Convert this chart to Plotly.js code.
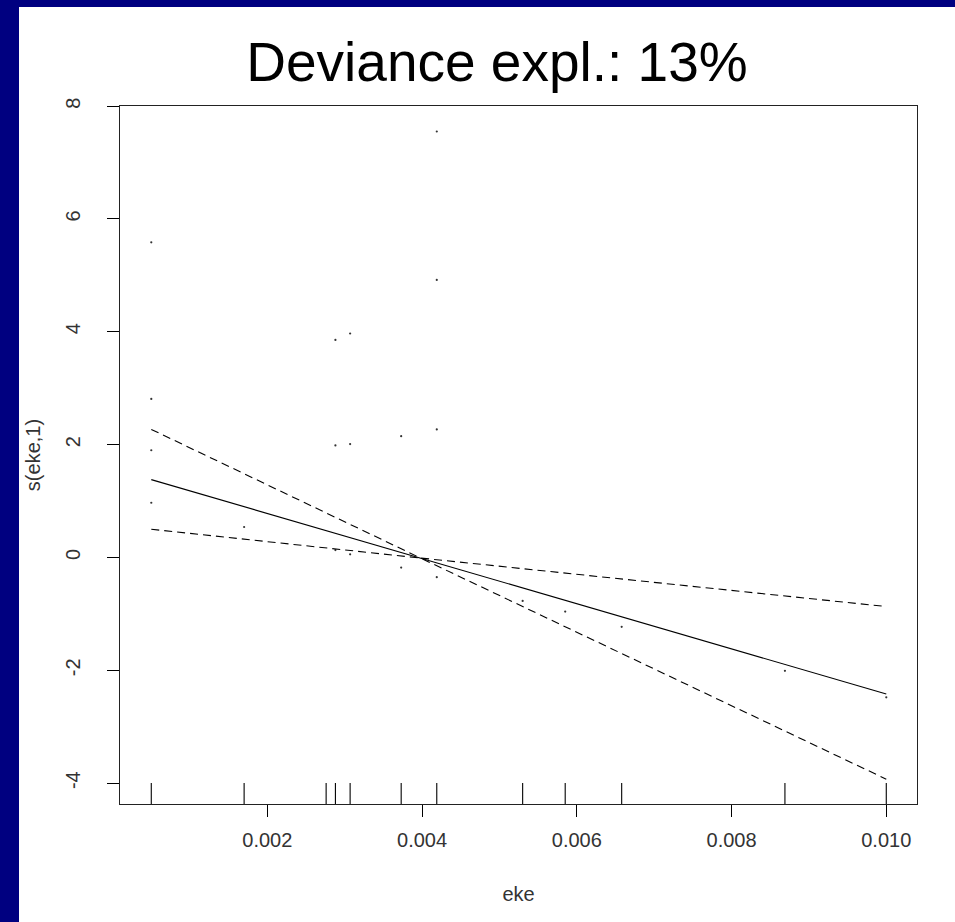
<!DOCTYPE html>
<html>
<head>
<meta charset="utf-8">
<script src="https://cdn.plot.ly/plotly-3.0.1.min.js"></script>
<style>
  html, body { margin: 0; padding: 0; background: #000080; width: 955px; height: 922px; overflow: hidden; }
  #chart { position: absolute; left: 19px; top: 7px; width: 936px; height: 915px; background: #ffffff; }
</style>
</head>
<body>
<div id="chart"></div>
<script>
// Fitted smooth s(eke,1) and its +/- 2 s.e. bands
var fitX   = [0.0005, 0.00398, 0.0100];
var fitY   = [1.38, -0.01, -2.42];
var upperY = [2.27, -0.01, -0.87];
var lowerY = [0.50, -0.01, -3.93];

// Partial residuals
var resX = [0.0005, 0.0005, 0.0005, 0.0005,
            0.0017,
            0.00288, 0.00288, 0.00288,
            0.00307, 0.00307, 0.00307,
            0.00373, 0.00373,
            0.00419, 0.00419, 0.00419, 0.00419,
            0.0053, 0.00585, 0.00658, 0.00869, 0.0100];
var resY = [5.585, 2.81, 1.90, 0.97,
            0.54,
            3.855, 1.985, 0.13,
            3.97, 2.01, 0.055,
            2.15, -0.18,
            7.55, 4.92, 2.27, -0.35,
            -0.77, -0.96, -1.23, -2.01, -2.48];

// Rug (observed eke values)
var rugX = [0.0005, 0.0017, 0.00276, 0.00288, 0.00307, 0.00373, 0.00419,
            0.0053, 0.00585, 0.00658, 0.00869, 0.0100];

var xTickVals = [0.002, 0.004, 0.006, 0.008, 0.010];
var xTickText = ['0.002', '0.004', '0.006', '0.008', '0.010'];
var yTickVals = [-4, -2, 0, 2, 4, 6, 8];
var yTickText = ['-4', '-2', '0', '2', '4', '6', '8'];

var titleText = 'Deviance expl.: 13%';
var xLabel = 'eke';
var yLabel = 's(eke,1)';

// build rug segments
var rugSegX = [], rugSegY = [];
rugX.forEach(function (v) { rugSegX.push(v, v, null); rugSegY.push(0, 0.03, null); });

var traces = [
  { x: resX, y: resY, type: 'scatter', mode: 'markers',
    marker: { size: 2.2, color: '#333333' }, hoverinfo: 'skip' },
  { x: fitX, y: fitY, type: 'scatter', mode: 'lines',
    line: { color: '#000000', width: 1.1 } },
  { x: fitX, y: upperY, type: 'scatter', mode: 'lines',
    line: { color: '#000000', width: 1.1, dash: '8px,5px' } },
  { x: fitX, y: lowerY, type: 'scatter', mode: 'lines',
    line: { color: '#000000', width: 1.1, dash: '8px,5px' } },
  { x: rugSegX, y: rugSegY, type: 'scatter', mode: 'lines', yaxis: 'y2',
    line: { color: '#000000', width: 1.1 } }
];

var font = 'Liberation Sans, Arial, sans-serif';
var layout = {
  width: 936, height: 915,
  paper_bgcolor: '#ffffff', plot_bgcolor: '#ffffff',
  showlegend: false,
  margin: { l: 101, r: 38, t: 99, b: 118, pad: 0 },
  title: { text: titleText, font: { family: font, size: 55, color: '#000000' },
           x: (497 - 19) / 936, xref: 'container', xanchor: 'center',
           y: 1 - (62 - 7) / 915, yref: 'container', yanchor: 'middle' },
  xaxis: {
    range: [0.0000957, 0.010397],
    tickmode: 'array', tickvals: xTickVals, ticktext: xTickText,
    ticks: 'outside', ticklen: 12, tickwidth: 1, tickcolor: '#000000',
    showgrid: false, zeroline: false,
    showline: true, mirror: true, linecolor: '#222222', linewidth: 1,
    tickfont: { family: font, size: 20, color: '#333333' },
    ticklabelstandoff: 6,
    title: { text: xLabel, font: { family: font, size: 20, color: '#333333' }, standoff: 36 }
  },
  yaxis: {
    range: [-4.37, 8.002],
    tickmode: 'array', tickvals: yTickVals, ticktext: yTickText,
    ticks: 'outside', ticklen: 12, tickwidth: 1, tickcolor: '#000000',
    tickangle: -90,
    showgrid: false, zeroline: false,
    showline: true, mirror: true, linecolor: '#222222', linewidth: 1,
    tickfont: { family: font, size: 20, color: '#333333' },
    ticklabelstandoff: 19,
    title: { text: yLabel, font: { family: font, size: 20, color: '#333333' }, standoff: 16 }
  },
  yaxis2: { overlaying: 'y', range: [0, 1], visible: false, fixedrange: true }
};

Plotly.newPlot('chart', traces, layout, { displayModeBar: false, staticPlot: true });
</script>
</body>
</html>
